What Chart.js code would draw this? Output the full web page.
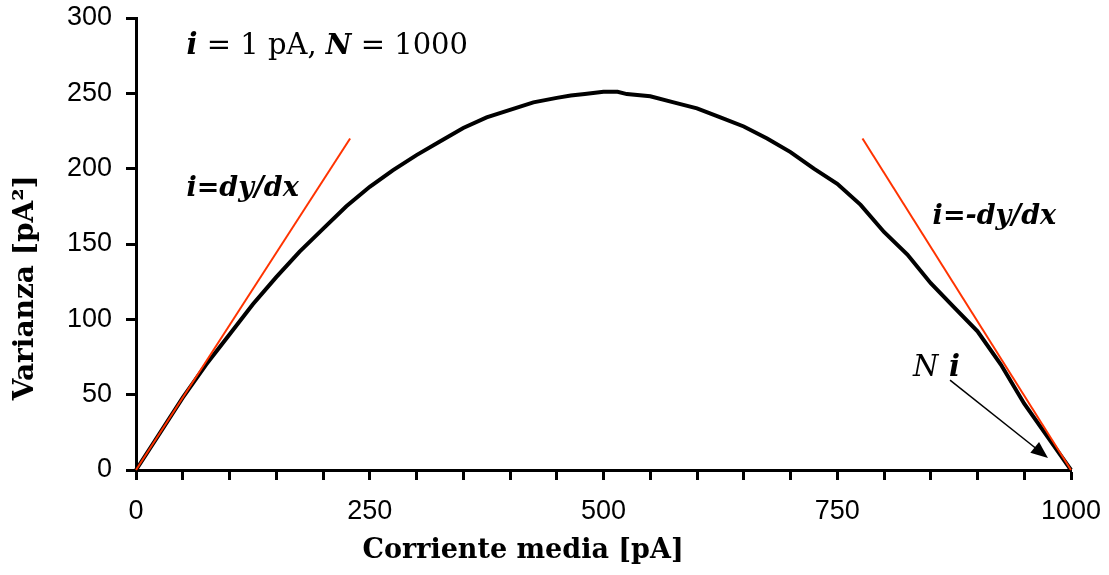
<!DOCTYPE html>
<html>
<head>
<meta charset="utf-8">
<script src="https://cdn.jsdelivr.net/npm/chart.js@4/dist/chart.umd.min.js"></script>
<style>
  html, body { margin: 0; padding: 0; background: #fff; }
  #wrap { width: 1109px; height: 575px; }
</style>
</head>
<body>
<div id="wrap"><canvas id="c" width="1109" height="575"></canvas></div>
<script>
// ---- data ----
const currentPA = [0,25,50,75,100,125,150,175,200,225,250,275,300,325,350,375,400,425,450,465,480,500,515,
                   525,550,575,600,625,650,675,700,725,750,775,800,825,850,875,900,925,950,975,1000];
const variancePA2 = [0,24,48,70,90,110,128,145,160,175,188,199,209,218,227,234,239,244,247,248.5,249.5,251,251,
                     249.5,248,244,240,234,228,220,211,200,190,176,158,143,124,108,92,70,44,22,0];
const slopeLeftX = [0, 229];
const slopeLeftY = [0, 220];
const slopeRightX = [777, 1000];
const slopeRightY = [220, 0];
const xLabeledTicks = [0, 250, 500, 750, 1000];
const yTicks = [0, 50, 100, 150, 200, 250, 300];
const xTitle = 'Corriente media [pA]';
const yTitle = 'Varianza [pA²]';

const toPts = (xs, ys) => xs.map((x, i) => ({ x: x, y: ys[i] }));

const serif = '"DejaVu Serif", "Liberation Serif", serif';

const annotations = {
  id: 'annotations',
  afterDatasetsDraw(chart) {
    const ctx = chart.ctx;
    const xs = chart.scales.x, ys = chart.scales.y;
    const px = v => xs.getPixelForValue(v), py = v => ys.getPixelForValue(v);
    ctx.save();
    ctx.fillStyle = '#000';
    ctx.textBaseline = 'alphabetic';
    ctx.textAlign = 'left';
    // "i = 1 pA, N = 1000"
    let x = px(54), y = py(276);
    const parts = [
      ['bold italic 29px ' + serif, 'i'],
      ['29px ' + serif, ' = 1 pA, '],
      ['bold italic 28px ' + serif, 'N'],
      ['29px ' + serif, ' = 1000']
    ];
    for (const [f, t] of parts) { ctx.font = f; ctx.fillText(t, x, y); x += ctx.measureText(t).width; }
    ctx.font = 'bold italic 27px ' + serif;
    ctx.fillText('i=dy/dx', px(54), py(182));
    ctx.fillText('i=-dy/dx', px(852), py(163));
    ctx.font = 'italic 29px ' + serif;
    ctx.fillText('N', px(831), py(62.4));
    ctx.font = 'bold italic 29px ' + serif;
    ctx.fillText('i', px(831) + 36, py(62.4));
    // arrow
    const x1 = px(870.6), y1 = py(59.7), x2 = px(975.4), y2 = py(8);
    ctx.strokeStyle = '#000';
    ctx.lineWidth = 1.5;
    const ang = Math.atan2(y2 - y1, x2 - x1), L = 17, W = 7;
    ctx.beginPath(); ctx.moveTo(x1, y1); ctx.lineTo(x2 - L * 0.8 * Math.cos(ang), y2 - L * 0.8 * Math.sin(ang)); ctx.stroke();
    ctx.beginPath();
    ctx.moveTo(x2, y2);
    ctx.lineTo(x2 - L * Math.cos(ang) + W * Math.sin(ang), y2 - L * Math.sin(ang) - W * Math.cos(ang));
    ctx.lineTo(x2 - L * Math.cos(ang) - W * Math.sin(ang), y2 - L * Math.sin(ang) + W * Math.cos(ang));
    ctx.closePath(); ctx.fill();
    // axis titles
    ctx.font = 'bold 27px ' + serif;
    ctx.textAlign = 'center';
    ctx.textBaseline = 'middle';
    ctx.fillText(xTitle, px(414), 551);
    ctx.save();
    ctx.font = 'bold 28px ' + serif;
    ctx.translate(26, py(121));
    ctx.rotate(-Math.PI / 2);
    ctx.fillText(yTitle, 0, 0);
    ctx.restore();
    ctx.restore();
  }
};

new Chart(document.getElementById('c'), {
  type: 'scatter',
  data: {
    datasets: [
      { data: toPts(slopeLeftX, slopeLeftY), showLine: true, borderColor: '#ff3300', borderWidth: 2, pointRadius: 0, clip: false },
      { data: toPts(slopeRightX, slopeRightY), showLine: true, borderColor: '#ff3300', borderWidth: 2, pointRadius: 0, clip: false },
      { data: toPts(currentPA, variancePA2), showLine: true, borderColor: '#000', borderWidth: 4, pointRadius: 0, tension: 0, clip: false }
    ]
  },
  options: {
    responsive: false,
    animation: false,
    events: [],
    layout: { padding: { left: 0, right: 38, top: 18, bottom: 0 } },
    plugins: { legend: { display: false }, tooltip: { enabled: false } },
    scales: {
      x: {
        type: 'linear', min: 0, max: 1000,
        afterFit(s) { s.height = 105; s.paddingLeft = 0; s.paddingRight = 0; },
        border: { display: true, color: '#000', width: 3 },
        grid: { display: true, drawOnChartArea: false, drawTicks: true, tickLength: 10, tickColor: '#000', tickWidth: 3 },
        ticks: {
          stepSize: 50, autoSkip: false, maxRotation: 0, padding: 15, color: '#000',
          font: { family: '"Liberation Sans", Arial, sans-serif', size: 27 },
          callback: v => xLabeledTicks.includes(v) ? String(v) : ''
        },
        title: { display: false }
      },
      y: {
        type: 'linear', min: 0, max: 300,
        afterFit(s) { s.width = 136; s.paddingTop = 0; s.paddingBottom = 0; },
        border: { display: true, color: '#000', width: 3 },
        grid: { display: true, drawOnChartArea: false, drawTicks: true, tickLength: 10, tickColor: '#000', tickWidth: 3 },
        ticks: {
          stepSize: 50, padding: 14, color: '#000',
          font: { family: '"Liberation Sans", Arial, sans-serif', size: 27 },
          callback: v => yTicks.includes(v) ? String(v) : ''
        },
        title: { display: false }
      }
    }
  },
  plugins: [annotations]
});
</script>
</body>
</html>
